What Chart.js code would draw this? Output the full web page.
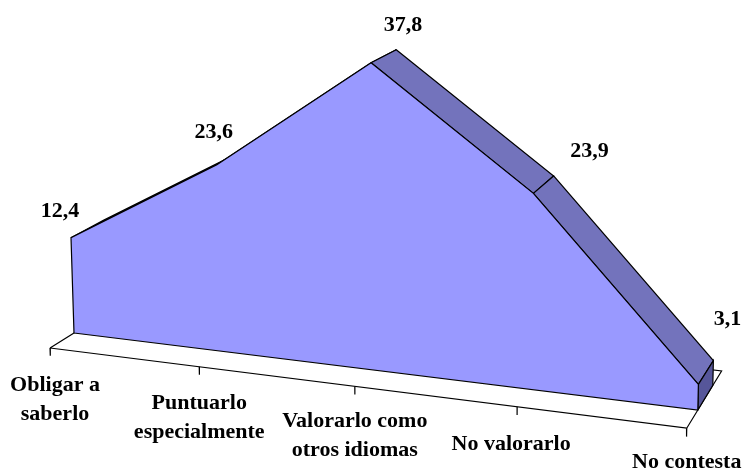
<!DOCTYPE html>
<html>
<head>
<meta charset="utf-8">
<title>Chart</title>
<script src="https://cdn.jsdelivr.net/npm/chart.js@4"></script>
<style>
  html, body { margin: 0; padding: 0; background: #fff; }
  canvas { display: block; }
</style>
</head>
<body>
<canvas id="chart" width="744" height="476"></canvas>
<script>
const categories = [
  ['Obligar a', 'saberlo'],
  ['Puntuarlo', 'especialmente'],
  ['Valorarlo como', 'otros idiomas'],
  ['No valorarlo'],
  ['No contesta'],
];
const values = [12.4, 23.6, 37.8, 23.9, 3.1];

const FONT = 'bold 22px "Liberation Serif", serif';
const LINE_HEIGHT = 29;

// Depth planes: area front = 0, area back = 1, the floor sticks out both ways
const FLOOR_FRONT = -0.7;
const FLOOR_BACK = 1.62;

// Hand placed label offsets, measured from the front top of each point
const valueLabelOffsets = [[-11, -26], [-3, -33], [32, -37], [56, -42], [29, -65]];
const categoryLabelOffsets = [[5, 37], [0, 37], [0, 35], [-6, 37], [0, 34]];

// Perspective of the 3D area: category, value, depth -> canvas pixel
function project(c, h, z) {
  const w = 1 - 0.02 * c - 0.00065 * h + 0.0309 * z;
  return {
    x: (74 + 142 * c - 0.288 * h + 35.8 * z) / w,
    y: (333 + 11.05 * c - 7.84 * h - 10.7 * z) / w,
  };
}

function face(points, fillColor) {
  return {
    data: points.map(([x, y, z]) => ({ x, y, z })),
    showLine: true,
    fillColor,
    borderColor: '#000',
    borderWidth: 1.2,
    pointRadius: 0,
    clip: false,
  };
}

const last = values.length - 1;

// Listed back to front
const faces = [];
faces.push(face([
  [0, 0, FLOOR_FRONT], [last, 0, FLOOR_FRONT], [last, 0, FLOOR_BACK], [0, 0, FLOOR_BACK], [0, 0, FLOOR_FRONT],
], '#fff'));
categories.forEach((_, i) => {
  faces.push(face([[i, 0, FLOOR_FRONT], [i, -1, FLOOR_FRONT]], null));
});
values.slice(0, -1).forEach((v, i) => {
  const next = values[i + 1];
  faces.push(face([[i, v, 0], [i + 1, next, 0], [i + 1, next, 1], [i, v, 1], [i, v, 0]], '#7373BC'));
});
faces.push(face([[last, 0, 0], [last, values[last], 0], [last, values[last], 1], [last, 0, 1], [last, 0, 0]], '#56569A'));
faces.push(face([
  [0, 0, 0],
  ...values.map((v, i) => [i, v, 0]),
  [last, 0, 0],
  [0, 0, 0],
], '#9999FF'));
// Chart.js draws the highest order first
faces.forEach((d, i) => { d.order = faces.length - i; });

const perspective = {
  id: 'perspective',
  afterDatasetsUpdate(chart) {
    const xs = chart.scales.x;
    const ys = chart.scales.y;
    chart.data.datasets.forEach((ds, di) => {
      chart.getDatasetMeta(di).data.forEach((pt, i) => {
        const p = project(xs.getValueForPixel(pt.x), ys.getValueForPixel(pt.y), ds.data[i].z);
        pt.x = p.x;
        pt.y = p.y;
      });
    });
  },
  beforeDatasetDraw(chart, args) {
    const color = chart.data.datasets[args.index].fillColor;
    if (!color) return;
    const ctx = chart.ctx;
    ctx.save();
    ctx.fillStyle = color;
    ctx.beginPath();
    args.meta.dataset.path(ctx);
    ctx.closePath();
    ctx.fill();
    ctx.restore();
  },
  afterDraw(chart) {
    const ctx = chart.ctx;
    ctx.save();
    ctx.font = FONT;
    ctx.fillStyle = '#000';
    ctx.textAlign = 'center';
    ctx.textBaseline = 'middle';
    values.forEach((v, i) => {
      const p = project(i, v, 0);
      const [dx, dy] = valueLabelOffsets[i];
      ctx.fillText(v.toFixed(1).replace('.', ','), p.x + dx, p.y + dy);
    });
    categories.forEach((lines, i) => {
      const p = project(i, 0, FLOOR_FRONT);
      const [dx, dy] = categoryLabelOffsets[i];
      lines.forEach((line, n) => {
        ctx.fillText(line, p.x + dx, p.y + dy + n * LINE_HEIGHT);
      });
    });
    ctx.restore();
  },
};

new Chart(document.getElementById('chart'), {
  type: 'scatter',
  data: { datasets: faces },
  plugins: [perspective],
  options: {
    responsive: false,
    animation: false,
    layout: { padding: 0 },
    plugins: { legend: { display: false }, tooltip: { enabled: false } },
    scales: {
      x: { type: 'linear', display: false, min: 0, max: last },
      y: { type: 'linear', display: false, min: -5, max: 40 },
    },
  },
});
</script>
</body>
</html>
